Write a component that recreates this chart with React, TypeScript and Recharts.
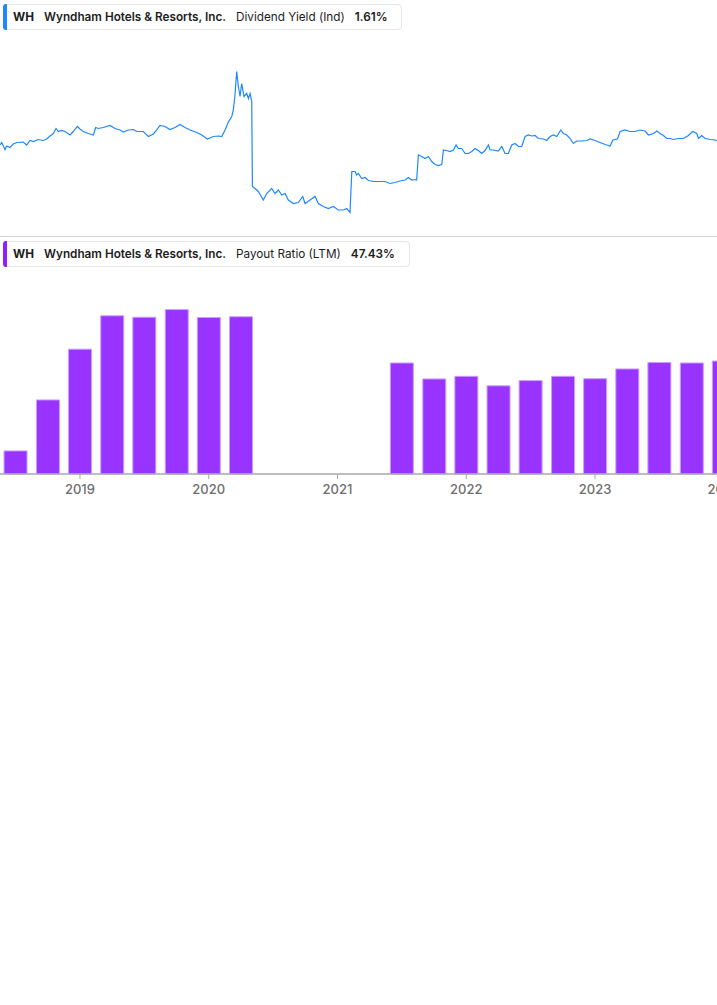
import { LineChart, Line, BarChart, Bar, XAxis, YAxis } from "recharts";

// dividend yield (Ind), % (time as decimal years)
const yieldTimes = [
  2018.379, 2018.392, 2018.418, 2018.431, 2018.457, 2018.482, 2018.509, 2018.56, 2018.586, 2018.612,
  2018.638, 2018.676, 2018.715, 2018.742, 2018.767, 2018.793, 2018.814, 2018.832, 2018.858, 2018.884,
  2018.923, 2018.948, 2018.979, 2019.0, 2019.026, 2019.065, 2019.104, 2019.122, 2019.142, 2019.181,
  2019.233, 2019.272, 2019.311, 2019.337, 2019.375, 2019.414, 2019.441, 2019.492, 2019.531, 2019.57,
  2019.596, 2019.621, 2019.66, 2019.699, 2019.738, 2019.777, 2019.816, 2019.855, 2019.907, 2019.946,
  2019.989, 2020.036, 2020.075, 2020.101, 2020.127, 2020.152, 2020.179, 2020.191, 2020.204, 2020.217,
  2020.23, 2020.243, 2020.256, 2020.274, 2020.295, 2020.308, 2020.321, 2020.334, 2020.339, 2020.36,
  2020.385, 2020.424, 2020.45, 2020.489, 2020.515, 2020.541, 2020.567, 2020.593, 2020.618, 2020.657,
  2020.696, 2020.73, 2020.748, 2020.787, 2020.826, 2020.851, 2020.89, 2020.929, 2020.968, 2021.006,
  2021.045, 2021.072, 2021.097, 2021.111, 2021.136, 2021.149, 2021.162, 2021.188, 2021.214, 2021.24,
  2021.278, 2021.33, 2021.369, 2021.408, 2021.447, 2021.485, 2021.525, 2021.55, 2021.577, 2021.602,
  2021.615, 2021.628, 2021.654, 2021.68, 2021.706, 2021.732, 2021.758, 2021.783, 2021.81, 2021.822,
  2021.848, 2021.874, 2021.9, 2021.921, 2021.939, 2021.965, 2021.991, 2022.016, 2022.043, 2022.068,
  2022.094, 2022.12, 2022.146, 2022.172, 2022.185, 2022.21, 2022.249, 2022.276, 2022.301, 2022.327,
  2022.353, 2022.379, 2022.405, 2022.431, 2022.457, 2022.482, 2022.509, 2022.534, 2022.56, 2022.599,
  2022.625, 2022.651, 2022.677, 2022.703, 2022.734, 2022.754, 2022.781, 2022.806, 2022.832, 2022.858,
  2022.897, 2022.936, 2022.962, 2023.0, 2023.039, 2023.078, 2023.117, 2023.138, 2023.174, 2023.195,
  2023.233, 2023.272, 2023.311, 2023.35, 2023.389, 2023.415, 2023.454, 2023.48, 2023.505, 2023.531,
  2023.557, 2023.583, 2023.609, 2023.647, 2023.686, 2023.725, 2023.759, 2023.79, 2023.803, 2023.829,
  2023.855, 2023.894, 2023.933, 2023.946,
];
const yieldValues = [
  1.8, 1.85, 1.71, 1.78, 1.75, 1.82, 1.85, 1.86, 1.8, 1.89,
  1.87, 1.91, 1.89, 1.92, 1.98, 2.03, 2.13, 2.07, 2.09, 2.07,
  2.0, 2.07, 2.17, 2.12, 2.07, 2.03, 2.0, 2.15, 2.13, 2.15,
  2.19, 2.13, 2.1, 2.06, 2.1, 2.11, 2.07, 2.07, 1.97, 2.02,
  2.1, 2.19, 2.17, 2.11, 2.15, 2.21, 2.15, 2.1, 2.05, 2.0,
  1.92, 1.97, 1.98, 1.97, 2.1, 2.26, 2.37, 2.5, 2.8, 3.27,
  2.97, 2.77, 3.03, 2.77, 2.83, 2.73, 2.83, 2.67, 0.97, 0.93,
  0.87, 0.7, 0.83, 0.93, 0.83, 0.9, 0.8, 0.83, 0.7, 0.63,
  0.65, 0.77, 0.63, 0.7, 0.77, 0.63, 0.57, 0.53, 0.57, 0.5,
  0.5, 0.53, 0.45, 1.27, 1.27, 1.2, 1.23, 1.13, 1.15, 1.09,
  1.07, 1.07, 1.07, 1.03, 1.05, 1.08, 1.1, 1.15, 1.1, 1.11,
  1.1, 1.6, 1.57, 1.53, 1.57, 1.47, 1.41, 1.39, 1.41, 1.7,
  1.69, 1.67, 1.7, 1.8, 1.73, 1.73, 1.63, 1.63, 1.67, 1.73,
  1.69, 1.63, 1.69, 1.8, 1.7, 1.7, 1.68, 1.77, 1.63, 1.63,
  1.8, 1.83, 1.77, 1.77, 1.97, 2.0, 1.98, 1.99, 1.93, 1.92,
  1.89, 1.97, 2.0, 1.97, 2.1, 2.03, 2.0, 1.93, 1.83, 1.88,
  1.88, 1.89, 1.92, 1.89, 1.85, 1.81, 1.78, 1.9, 1.92, 2.07,
  2.1, 2.07, 2.07, 2.1, 2.08, 2.0, 2.03, 2.08, 2.03, 1.99,
  1.93, 1.93, 1.91, 1.93, 1.93, 1.99, 2.07, 2.03, 1.93, 1.99,
  1.93, 1.91, 1.9, 1.88,
];

// payout ratio (LTM), %, one bar per quarter end; null = no bar
const quarters = [
  "Q2 2018", "Q3 2018", "Q4 2018", "Q1 2019", "Q2 2019", "Q3 2019", "Q4 2019", "Q1 2020",
  "Q2 2020", "Q3 2020", "Q4 2020", "Q1 2021", "Q2 2021", "Q3 2021", "Q4 2021", "Q1 2022",
  "Q2 2022", "Q3 2022", "Q4 2022", "Q1 2023", "Q2 2023", "Q3 2023", "Q4 2023",
];
const payoutRatio = [
  9.7, 31.1, 52.4, 66.4, 65.8, 69.0, 65.7, 66.0,
  null, null, null, null, 46.6, 39.9, 41.0, 37.0,
  39.2, 41.0, 40.0, 44.1, 46.8, 46.6, 47.4,
];
const yearTicks = [2019, 2020, 2021, 2022, 2023, 2024];

const quarterEndFraction = [0.247, 0.496, 0.748, 0.997];
const quarterToYear = (q: string) => {
  const [qq, yy] = q.split(" ");
  return Number(yy) + quarterEndFraction[Number(qq.slice(1)) - 1];
};

const lineData = yieldTimes.map((t, i) => ({ t, v: yieldValues[i] }));
const barData = quarters.map((q, i) => ({ t: quarterToYear(q), v: payoutRatio[i] }));

const X_DOMAIN: [number, number] = [2018.379, 2024.25];
const CHART_W = 756;
const FONT = "Inter, 'Noto Sans', sans-serif";

const Legend = ({ top, color, metric, value }: any) => (
  <div
    style={{
      position: "absolute",
      left: 3,
      top,
      height: 26,
      boxSizing: "border-box",
      display: "flex",
      alignItems: "center",
      border: "1px solid #e6e6e6",
      borderRadius: 4,
      paddingLeft: 9,
      paddingRight: 14,
      fontSize: 11.75,
      color: "#1c1c1c",
      whiteSpace: "nowrap",
      background: "#fff",
    }}
  >
    <div
      style={{
        position: "absolute",
        left: -1,
        top: -1,
        bottom: -1,
        width: 4,
        background: color,
        borderRadius: "3px 0 0 3px",
      }}
    />
    <span style={{ fontWeight: 700 }}>WH</span>
    <span style={{ marginLeft: 10, fontWeight: 600 }}>Wyndham Hotels &amp; Resorts, Inc.</span>
    <span style={{ marginLeft: 10 }}>{metric}</span>
    <span style={{ marginLeft: 10, fontWeight: 600 }}>{value}</span>
  </div>
);

export default function App() {
  return (
    <div
      style={{
        position: "absolute",
        left: 0,
        top: 0,
        width: 717,
        height: 1005,
        overflow: "hidden",
        background: "#fff",
        fontFamily: FONT,
      }}
    >
      <Legend top={4} color="#1e88ff" metric="Dividend Yield (Ind)" value="1.61%" />

      <div style={{ position: "absolute", left: 0, top: 40 }}>
        <LineChart width={CHART_W} height={195} data={lineData} margin={{ top: 0, right: 0, bottom: 0, left: 0 }}>
          <XAxis type="number" dataKey="t" domain={X_DOMAIN} allowDataOverflow hide />
          <YAxis type="number" domain={[0, 3.9]} hide />
          <Line
            type="linear"
            dataKey="v"
            stroke="#1e88ff"
            strokeWidth={1.2}
            dot={false}
            isAnimationActive={false}
          />
        </LineChart>
      </div>

      <div style={{ position: "absolute", left: 0, top: 236, width: 717, height: 1, background: "#d4d4d4" }} />

      <Legend top={241} color="#8f1fff" metric="Payout Ratio (LTM)" value="47.43%" />

      <div style={{ position: "absolute", left: 0, top: 281 }}>
        <BarChart width={CHART_W} height={223} data={barData} margin={{ top: 0, right: 0, bottom: 0, left: 0 }}>
          <XAxis
            type="number"
            dataKey="t"
            domain={X_DOMAIN}
            allowDataOverflow
            ticks={yearTicks}
            tickFormatter={(v) => String(v)}
            height={30}
            axisLine={{ stroke: "#a8a8a8", strokeWidth: 1.5 }}
            tickLine={{ stroke: "#a8a8a8" }}
            tickSize={5}
            tickMargin={6}
            tick={{ fill: "#6e6e6e", fontSize: 13, fontWeight: 500, fontFamily: FONT }}
          />
          <YAxis type="number" domain={[0, 81]} hide />
          <Bar
            dataKey="v"
            fill="#9933ff"
            stroke="#c9a0ff"
            strokeWidth={1}
            barSize={23}
            isAnimationActive={false}
          />
        </BarChart>
      </div>
    </div>
  );
}
